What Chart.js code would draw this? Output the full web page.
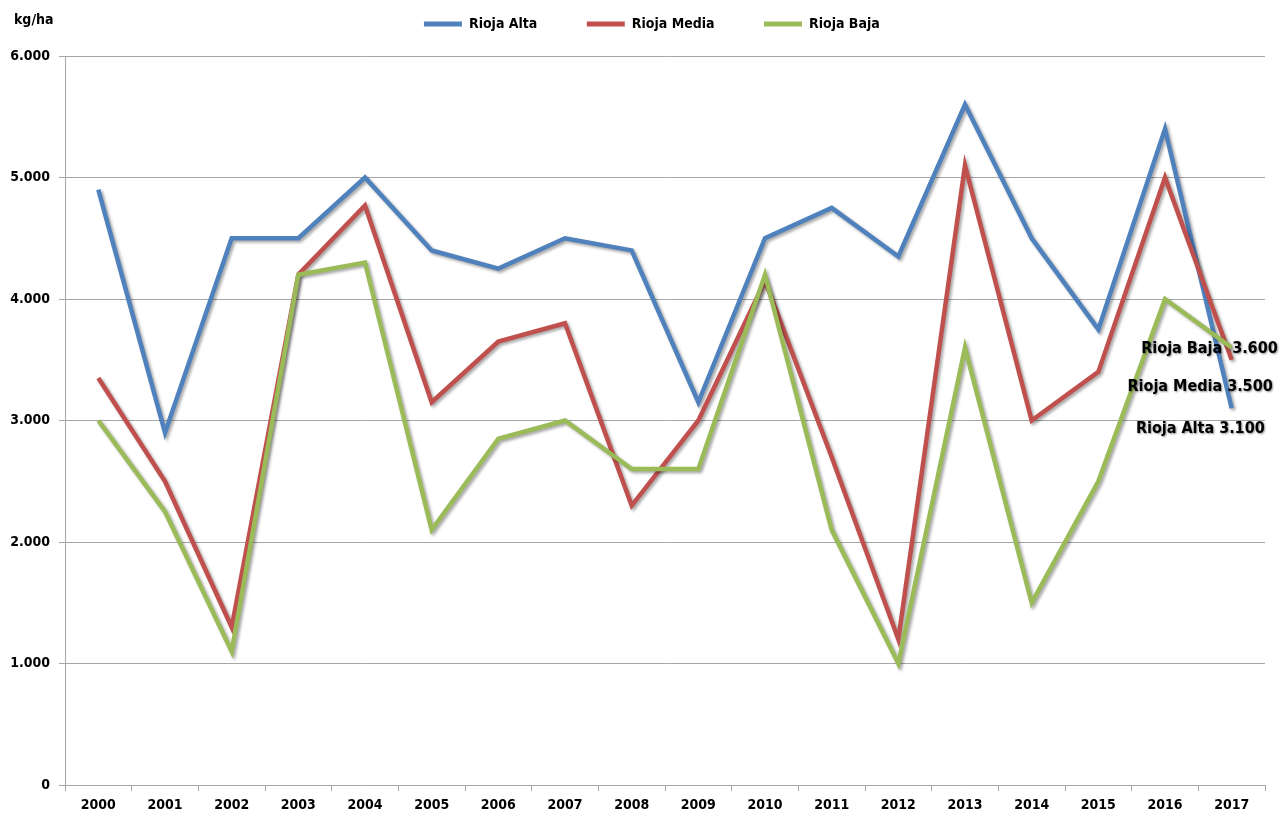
<!DOCTYPE html>
<html>
<head>
<meta charset="utf-8">
<script src="https://cdn.jsdelivr.net/npm/chart.js@4"></script>
<style>
  html, body { margin: 0; padding: 0; background: #fff; }
  #wrap { width: 1281px; height: 816px; }
</style>
</head>
<body>
<div id="wrap"><canvas id="c"></canvas></div>
<script>
// values (kg/ha)
const years = ['2000', '2001', '2002', '2003', '2004', '2005', '2006', '2007', '2008', '2009',
  '2010', '2011', '2012', '2013', '2014', '2015', '2016', '2017'];
const riojaAlta = [4900, 2900, 4500, 4500, 5000, 4400, 4250, 4500, 4400, 3150,
  4500, 4750, 4350, 5600, 4500, 3750, 5400, 3100];
const riojaMedia = [3350, 2500, 1300, 4200, 4770, 3150, 3650, 3800, 2300, 3000,
  4150, 2700, 1200, 5100, 3000, 3400, 5000, 3500];
const riojaBaja = [3000, 2250, 1100, 4200, 4300, 2100, 2850, 3000, 2600, 2600,
  4200, 2100, 1000, 3600, 1500, 2500, 4000, 3600];
const seriesNames = ['Rioja Alta', 'Rioja Media', 'Rioja Baja'];
const seriesColors = ['#4F81BD', '#C0504D', '#9BBB59'];
const unitLabel = 'kg/ha';

const FONT = "'DejaVu Sans Condensed', 'DejaVu Sans', sans-serif";

// 6000 -> "6.000"
function fmt(v) {
  return String(v).replace(/\B(?=(\d{3})+(?!\d))/g, '.');
}

// soft drop shadow under the lines, like the original
const lineShadow = {
  id: 'lineShadow',
  beforeDatasetsDraw(chart) {
    const ctx = chart.ctx;
    ctx.save();
    ctx.shadowColor = 'rgba(0,0,0,0.35)';
    ctx.shadowBlur = 3;
    ctx.shadowOffsetX = 2;
    ctx.shadowOffsetY = 2;
  },
  afterDatasetsDraw(chart) {
    chart.ctx.restore();
  }
};

// unit text top left + end labels on the right
const extras = {
  id: 'extras',
  afterDraw(chart) {
    const ctx = chart.ctx;
    ctx.save();
    ctx.fillStyle = '#000';
    ctx.font = 'bold 14px ' + FONT;
    ctx.textAlign = 'left';
    ctx.textBaseline = 'middle';
    ctx.fillText(unitLabel, 14, 20);

    // label offsets from the last point: [dx of right edge, dy]
    const offs = [[33, 20], [41, 27], [46, 1]];
    const texts = [
      seriesNames[0] + ' ' + fmt(riojaAlta[riojaAlta.length - 1]),
      seriesNames[1] + ' ' + fmt(riojaMedia[riojaMedia.length - 1]),
      seriesNames[2] + '  ' + fmt(riojaBaja[riojaBaja.length - 1])
    ];
    ctx.font = 'bold 16px ' + FONT;
    ctx.textAlign = 'right';
    ctx.shadowColor = 'rgba(0,0,0,0.45)';
    ctx.shadowBlur = 2;
    ctx.shadowOffsetX = 1;
    ctx.shadowOffsetY = 1;
    for (let i = 0; i < 3; i++) {
      const meta = chart.getDatasetMeta(i);
      const pt = meta.data[meta.data.length - 1];
      ctx.fillText(texts[i], pt.x + offs[i][0], pt.y + offs[i][1]);
    }
    ctx.restore();
  }
};

const gap = '         ';
const tail = '      ';

new Chart(document.getElementById('c'), {
  type: 'line',
  data: {
    labels: years,
    datasets: [
      { label: seriesNames[0], data: riojaAlta, borderColor: seriesColors[0], backgroundColor: seriesColors[0], order: 3 },
      { label: seriesNames[1], data: riojaMedia, borderColor: seriesColors[1], backgroundColor: seriesColors[1], order: 2 },
      { label: seriesNames[2], data: riojaBaja, borderColor: seriesColors[2], backgroundColor: seriesColors[2], order: 1 }
    ]
  },
  options: {
    responsive: true,
    maintainAspectRatio: false,
    animation: false,
    layout: { padding: { top: 7, left: 0, right: 16, bottom: 0 } },
    elements: {
      line: { borderWidth: 4.5, tension: 0, borderJoinStyle: 'miter' },
      point: { radius: 0, hoverRadius: 0 }
    },
    plugins: {
      tooltip: { enabled: false },
      legend: {
        position: 'top',
        fullSize: false,
        labels: {
          usePointStyle: true,
          pointStyle: 'line',
          pointStyleWidth: 38,
          padding: 10,
          color: '#000',
          font: { family: FONT, size: 14, weight: 'bold' },
          sort: (a, b) => a.datasetIndex - b.datasetIndex,
          generateLabels(chart) {
            const items = Chart.defaults.plugins.legend.labels.generateLabels(chart);
            items.forEach(it => {
              it.lineWidth = 5;
              it.text = it.text + (it.datasetIndex < 2 ? gap : tail);
            });
            return items;
          }
        }
      }
    },
    scales: {
      x: {
        type: 'category',
        offset: true,
        grid: { display: true, drawOnChartArea: false, drawTicks: true, tickLength: 6, color: '#A6A6A6', offset: true },
        border: { display: true, color: '#A6A6A6', width: 1 },
        ticks: { color: '#000', font: { family: FONT, size: 14, weight: 'bold' }, padding: 6, maxRotation: 0 },
        afterFit(s) { s.height = 31; }
      },
      spacer: {
        type: 'linear',
        position: 'top',
        display: true,
        grid: { display: false },
        border: { display: false },
        ticks: { display: false },
        afterFit(s) { s.height = 15; }
      },
      y: {
        min: 0,
        max: 6000,
        ticks: {
          stepSize: 1000,
          color: '#000',
          padding: 9,
          font: { family: FONT, size: 14, weight: 'bold' },
          callback: v => fmt(v)
        },
        grid: { color: '#A6A6A6', tickLength: 6 },
        border: { display: true, color: '#A6A6A6', width: 1 },
        afterFit(s) { s.width = 65; }
      }
    }
  },
  plugins: [lineShadow, extras]
});
</script>
</body>
</html>
